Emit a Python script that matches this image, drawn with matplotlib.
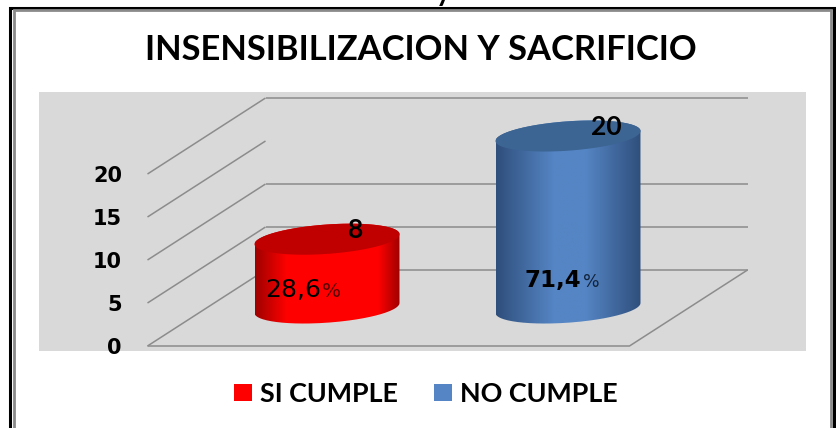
import numpy as np
import matplotlib
matplotlib.use("Agg")
import matplotlib.pyplot as plt
from matplotlib.colors import LinearSegmentedColormap
from matplotlib.patches import Patch, PathPatch, Rectangle
from matplotlib.path import Path

categories = ["SI CUMPLE", "NO CUMPLE"]
counts = [8, 20]
percent_labels = ["28,6", "71,4"]
tick_values = [0, 5, 10, 15, 20]
wall_gridlines = [0, 5, 10, 20]
title_text = "INSENSIBILIZACION Y SACRIFICIO"

W, H = 836, 428
PX_PER_CAT = 241.0
PX_PER_VAL = 8.6
X0_PX, Y0_PX = 327.0, 346.0
DEPTH_X = 118.0 / PX_PER_CAT
DEPTH_Y = 76.0 / PX_PER_VAL
R_X = 72.5 / PX_PER_CAT
R_Y = 14.7 / PX_PER_VAL
TILT = 5.0 / PX_PER_VAL

side = {"SI CUMPLE": ("#a00000", "#ff0000", "#c00000"),
        "NO CUMPLE": ("#2f4f7c", "#5585c4", "#3c6594")}
ramps = {"SI CUMPLE": [0, 0.22, 0.85, 1], "NO CUMPLE": [0, 0.4, 0.62, 1]}

fig = plt.figure(figsize=(W / 100, H / 100), dpi=100, facecolor="white")
ax = fig.add_axes([0, 0, 1, 1], facecolor="none")
ax.set_xlim(-X0_PX / PX_PER_CAT, (W - X0_PX) / PX_PER_CAT)
ax.set_ylim((Y0_PX - H) / PX_PER_VAL, Y0_PX / PX_PER_VAL)
for s in ax.spines.values():
    s.set_visible(False)


def fig_rect(x0, y0, x1, y1, **kw):
    fig.add_artist(Rectangle((x0 / W, 1 - y1 / H), (x1 - x0) / W, (y1 - y0) / H,
                             transform=fig.transFigure, **kw))


# frame and plot backdrop
fig_rect(9.5, 8, 833.5, 440, fill=False, ec="#000000", lw=2.2)
fig_rect(14, 10.5, 831, 440, fill=False, ec="#8a8a8a", lw=2.0)
fig_rect(39, 92, 806, 351, fc="#d9d9d9", ec="none", zorder=-5)


def project(c, v, d):
    return c + (d - 0.5) * DEPTH_X, v + d * DEPTH_Y


GRID = dict(color="#8c8c8c", lw=1.1, zorder=2, solid_capstyle="butt")
cat_lo, cat_hi = -0.5, 1.5
for v in tick_values:
    p0, p1 = project(cat_lo, v, 0), project(cat_lo, v, 1)
    ax.plot([p0[0], p1[0]], [p0[1], p1[1]], **GRID)
for v in wall_gridlines:
    p0, p1 = project(cat_lo, v, 1), project(cat_hi, v, 1)
    ax.plot([p0[0], p1[0]], [p0[1], p1[1]], **GRID)
f0, f1, f2 = project(cat_lo, 0, 0), project(cat_hi, 0, 0), project(cat_hi, 0, 1)
ax.plot([f0[0], f1[0], f2[0]], [f0[1], f1[1], f2[1]], **GRID)

# cylinders
t = np.linspace(0, 2 * np.pi, 181)
for i, (cat, val) in enumerate(zip(categories, counts)):
    dark, bright, top = side[cat]
    cx, by = project(i, 0, 0.5)
    ty = by + val
    ex = R_X * np.cos(t)
    ey = TILT * np.cos(t) + R_Y * np.sin(t)
    lower = t[(t >= np.pi) & (t <= 2 * np.pi)]
    bx = cx + R_X * np.cos(lower)
    byy = by + TILT * np.cos(lower) + R_Y * np.sin(lower)
    upper = t[t <= np.pi]
    ux = cx + R_X * np.cos(upper)
    uy = ty + TILT * np.cos(upper) + R_Y * np.sin(upper)
    vx = np.r_[bx, ux]
    vy = np.r_[byy, uy]
    body = PathPatch(Path(np.c_[vx, vy]), transform=ax.transData, fc="none", ec="none")
    ax.add_patch(body)
    r = ramps[cat]
    cmap = LinearSegmentedColormap.from_list(
        "c", [(r[0], dark), (r[1], bright), (r[2], bright), (r[3], dark)])
    im = ax.imshow(np.linspace(0, 1, 256)[None, :], extent=(cx - R_X, cx + R_X, by - 3, ty + 3),
                   aspect="auto", cmap=cmap, zorder=3, interpolation="bilinear")
    im.set_clip_path(body)
    ax.fill(cx + ex, ty + ey, color=top, lw=0, zorder=4)

ax.set_xlim(-X0_PX / PX_PER_CAT, (W - X0_PX) / PX_PER_CAT)
ax.set_ylim((Y0_PX - H) / PX_PER_VAL, Y0_PX / PX_PER_VAL)

# value labels
count_dx = [21 / PX_PER_CAT, 23 / PX_PER_CAT]
for i, val in enumerate(counts):
    cx, by = project(i, 0, 0.5)
    ax.text(cx + count_dx[i], by + val + 1.05, str(val), family="Lato", fontweight="bold",
            fontsize=19, ha="left", va="center", color="#000000", zorder=6)

pct_pos = [(-62 / PX_PER_CAT, (346 - 297) / PX_PER_VAL), (-43 / PX_PER_CAT, (346 - 287) / PX_PER_VAL)]
pct_weight = ["normal", "bold"]
pct_size = [18, 16.5]
pct_sign = [14.5, 12.5]
pct_color = ["#5a0000", "#12233a"]
for i, lab in enumerate(percent_labels):
    cx, _ = project(i, 0, 0.5)
    tx = ax.text(cx + pct_pos[i][0], pct_pos[i][1], lab, family="DejaVu Sans",
                 fontweight=pct_weight[i], fontsize=pct_size[i], ha="left", va="baseline",
                 color="#000000", zorder=6)
    fig.canvas.draw()
    bb = tx.get_window_extent()
    xd = ax.transData.inverted().transform((bb.x1 + 1, 0))[0]
    ax.text(xd, pct_pos[i][1], "%", family="DejaVu Sans", fontsize=pct_sign[i], ha="left",
            va="baseline", color=pct_color[i], zorder=6)

# axis labels through the axis
ax.set_xticks([])
ax.set_yticks(tick_values)
ax.set_yticklabels([str(v) for v in tick_values], family="DejaVu Sans", fontweight="bold", fontsize=15)
ax.tick_params(axis="y", length=0, pad=-122 * 0.72, labelcolor="#000000")

ax.set_title(title_text, family="Lato", fontweight="bold", fontsize=24.8, x=421 / W,
             y=(H - 60) / H, pad=0, va="baseline", color="#000000")

handles = [Patch(fc=side[c][1], ec="none", label=c) for c in categories]
leg = fig.legend(handles=handles, ncol=2, loc="center", bbox_to_anchor=(426 / W, 1 - 394 / H),
                 frameon=False, handlelength=0.65, handleheight=0.62, handletextpad=0.3,
                 columnspacing=1.35, borderpad=0, prop={"family": "Lato", "weight": "bold", "size": 19.4})

# clipped descender of the text line above the frame
fig.text(443 / W, 1 - 0.5 / H, "y", family="Lato", fontweight="bold", fontsize=20, ha="center",
         va="baseline", color="#000000", clip_on=False)

fig.savefig("out.png", dpi=100)
